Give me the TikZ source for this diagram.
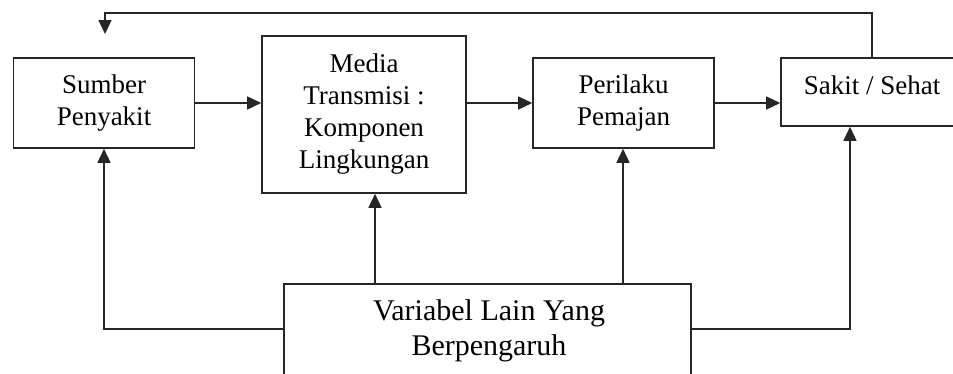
\documentclass[tikz,border=0pt]{standalone}
\usepackage{fontspec}
\setmainfont{Liberation Serif}
\usetikzlibrary{arrows.meta}
\begin{document}
\begin{tikzpicture}[x=1pt,y=-1pt,
  box/.style={draw=black!85, line width=1.6pt, inner sep=0pt, fill=white},
  txt/.style={align=center, inner sep=0pt, font=\fontsize{27}{32}\selectfont},
  bigtxt/.style={align=center, inner sep=0pt, font=\fontsize{30}{35}\selectfont},
  conn/.style={draw=black!85, line width=1.5pt},
  arr/.style={conn, -{Triangle[length=14pt,width=13pt]}}]
\useasboundingbox (0,0) rectangle (953,373);
\clip (0,0) rectangle (953,373);
\fill[white] (0,0) rectangle (953,373);
% boxes
\node[box, minimum width=181pt, minimum height=90pt] (sumber) at (104,103) {};
\node[txt] (sumbertxt) at (sumber.center) {Sumber\\Penyakit};
\node[box, minimum width=204pt, minimum height=157pt] (media) at (364,114.5) {};
\node[txt] (mediatxt) at (media.center) {Media\\Transmisi :\\Komponen\\Lingkungan};
\node[box, minimum width=181pt, minimum height=90pt] (perilaku) at (623.5,103) {};
\node[txt] (perilakutxt) at (perilaku.center) {Perilaku\\Pemajan};
\node[box, minimum width=182pt, minimum height=68pt] (sakit) at (872,92) {};
\node[txt] (sakittxt) at (872,85) {Sakit / Sehat};
\node[box, minimum width=407pt, minimum height=116pt] (var) at (487.5,342) {};
\node[bigtxt] (vartxt) at (489,331) {Variabel Lain Yang\\Berpengaruh};
% coordinates
\coordinate (fbturn) at (105,13);
\coordinate (fbend) at (105,34);
\coordinate (lcorner) at (104,329);
\coordinate (rcorner) at (850,329);
\coordinate (mx) at (375,0);
\coordinate (px) at (623,0);
% connectors
\draw[arr] (sumber.east) -- (sumber.east -| media.west);
\draw[arr] (perilaku.west -| media.east) -- (perilaku.west);
\draw[arr] (perilaku.east) -- (perilaku.east -| sakit.west);
\draw[arr] (sakit.north) |- (fbturn) -- (fbend);
\draw[arr] (var.west |- lcorner) -- (lcorner) -- (lcorner |- sumber.south);
\draw[arr] (var.east |- rcorner) -- (rcorner) -- (rcorner |- sakit.south);
\draw[arr] (var.north -| mx) -- (media.south -| mx);
\draw[arr] (var.north -| px) -- (perilaku.south -| px);
\end{tikzpicture}
\end{document}
